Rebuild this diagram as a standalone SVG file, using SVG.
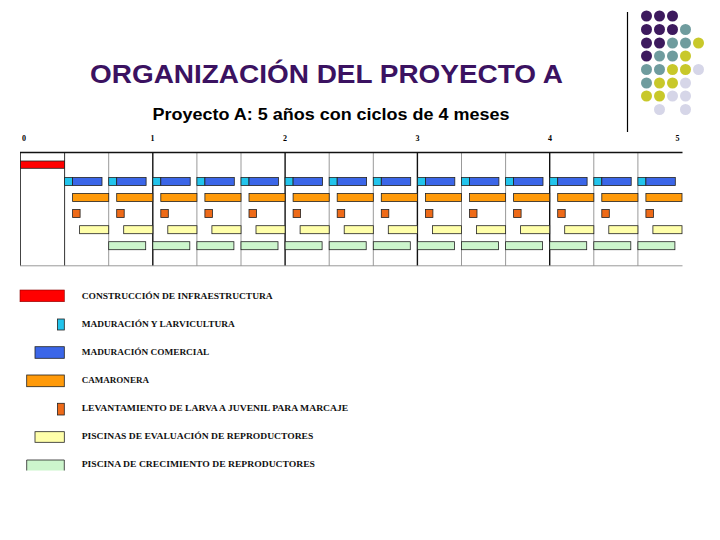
<svg xmlns="http://www.w3.org/2000/svg" xmlns:xlink="http://www.w3.org/1999/xlink" width="720" height="540" viewBox="0 0 720 540">
<style>
.title{font-family:"Liberation Sans",Arial,sans-serif;font-weight:bold;font-size:25px;fill:#3B1261}
.sub{font-family:"Liberation Sans",Arial,sans-serif;font-weight:bold;font-size:16px;fill:#000}
.yr{font-family:"Liberation Serif","Times New Roman",serif;font-weight:bold;font-size:8px;fill:#000;text-anchor:middle}
.lg{font-family:"Liberation Serif","Times New Roman",serif;font-weight:bold;font-size:8.5px;fill:#111}
.bar{stroke:#222;stroke-width:0.8}
.red{fill:#FF0000}
.cy{fill:#22C4EC}
.bl{fill:#3B66E8}
.or{fill:#FF9A0A}
.sq{fill:#EE6A18}
.ye{fill:#FFFFAA}
.gr{fill:#CCF5CC}
.gl{stroke:#999;stroke-width:1}
.gd{stroke:#111;stroke-width:1.4}
.p{fill:#3D1A5E}.t{fill:#6F9C9E}.y{fill:#C8C82A}.l{fill:#D6D6E8}
</style>
<defs>
<g id="cyc">
<rect class="bar cy" x="0" y="177.5" width="8" height="8"/>
<rect class="bar bl" x="8" y="177.5" width="29.4" height="8"/>
<rect class="bar or" x="8" y="193.5" width="36.1" height="8"/>
<rect class="bar sq" x="8" y="209.5" width="7.5" height="8"/>
<rect class="bar ye" x="15" y="225.7" width="29.1" height="8"/>
</g>
<rect id="grn" class="bar gr" x="0" y="241.7" width="37" height="8"/>
</defs>

<g id="logo">
<line x1="627.5" y1="12" x2="627.5" y2="132" stroke="#000" stroke-width="1.2"/>
<circle class="p" cx="646.5" cy="16" r="5.5"/><circle class="p" cx="659.5" cy="16" r="5.5"/><circle class="p" cx="672.5" cy="16" r="5.5"/>
<circle class="p" cx="646.5" cy="29.5" r="5.5"/><circle class="p" cx="659.5" cy="29.5" r="5.5"/><circle class="p" cx="672.5" cy="29.5" r="5.5"/><circle class="t" cx="685.5" cy="29.5" r="5.5"/>
<circle class="p" cx="646.5" cy="43" r="5.5"/><circle class="p" cx="659.5" cy="43" r="5.5"/><circle class="t" cx="672.5" cy="43" r="5.5"/><circle class="t" cx="685.5" cy="43" r="5.5"/><circle class="y" cx="698.5" cy="43" r="5.5"/>
<circle class="p" cx="646.5" cy="56" r="5.5"/><circle class="t" cx="659.5" cy="56" r="5.5"/><circle class="t" cx="672.5" cy="56" r="5.5"/><circle class="y" cx="685.5" cy="56" r="5.5"/>
<circle class="t" cx="646.5" cy="69.5" r="5.5"/><circle class="t" cx="659.5" cy="69.5" r="5.5"/><circle class="y" cx="672.5" cy="69.5" r="5.5"/><circle class="y" cx="685.5" cy="69.5" r="5.5"/><circle class="l" cx="698.5" cy="69.5" r="5.5"/>
<circle class="t" cx="646.5" cy="83" r="5.5"/><circle class="y" cx="659.5" cy="83" r="5.5"/><circle class="y" cx="672.5" cy="83" r="5.5"/><circle class="l" cx="685.5" cy="83" r="5.5"/>
<circle class="y" cx="646.5" cy="96" r="5.5"/><circle class="y" cx="659.5" cy="96" r="5.5"/><circle class="l" cx="672.5" cy="96" r="5.5"/><circle class="l" cx="685.5" cy="96" r="5.5"/>
<circle class="l" cx="659.5" cy="109.5" r="5.5"/><circle class="l" cx="685.5" cy="109.5" r="5.5"/>
</g>

<text class="title" x="90" y="83" textLength="473" lengthAdjust="spacingAndGlyphs">ORGANIZACIÓN DEL PROYECTO A</text>
<text class="sub" x="152.5" y="120" textLength="357" lengthAdjust="spacingAndGlyphs">Proyecto A: 5 años con ciclos de 4 meses</text>

<g id="years">
<text class="yr" x="24" y="140.5">0</text>
<text class="yr" x="152.5" y="140.5">1</text>
<text class="yr" x="285" y="140.5">2</text>
<text class="yr" x="417.5" y="140.5">3</text>
<text class="yr" x="550" y="140.5">4</text>
<text class="yr" x="677.5" y="140.5">5</text>
</g>

<g id="grid">
<line class="gl" x1="108.7" y1="152.5" x2="108.7" y2="266"/>
<line class="gl" x1="196.9" y1="152.5" x2="196.9" y2="266"/>
<line class="gl" x1="241.0" y1="152.5" x2="241.0" y2="266"/>
<line class="gl" x1="329.2" y1="152.5" x2="329.2" y2="266"/>
<line class="gl" x1="373.3" y1="152.5" x2="373.3" y2="266"/>
<line class="gl" x1="461.5" y1="152.5" x2="461.5" y2="266"/>
<line class="gl" x1="505.6" y1="152.5" x2="505.6" y2="266"/>
<line class="gl" x1="593.8" y1="152.5" x2="593.8" y2="266"/>
<line class="gl" x1="637.9" y1="152.5" x2="637.9" y2="266"/>
<line x1="20.5" y1="152.5" x2="20.5" y2="266" stroke="#444" stroke-width="1"/>
<line x1="64.6" y1="152.5" x2="64.6" y2="266" stroke="#333" stroke-width="1"/>
<line class="gd" x1="152.8" y1="152.5" x2="152.8" y2="266"/>
<line class="gd" x1="285.1" y1="152.5" x2="285.1" y2="266"/>
<line class="gd" x1="417.4" y1="152.5" x2="417.4" y2="266"/>
<line class="gd" x1="549.7" y1="152.5" x2="549.7" y2="266"/>
<line x1="20" y1="152.5" x2="682.5" y2="152.5" stroke="#111" stroke-width="1.4"/>
<line x1="20" y1="265.8" x2="682.5" y2="265.8" stroke="#999" stroke-width="1"/>
</g>

<g id="bars">
<rect class="bar red" x="20.5" y="161" width="44.1" height="7.3"/>
<use xlink:href="#cyc" x="64.6"/>
<use xlink:href="#cyc" x="108.7"/>
<use xlink:href="#cyc" x="152.8"/>
<use xlink:href="#cyc" x="196.9"/>
<use xlink:href="#cyc" x="241.0"/>
<use xlink:href="#cyc" x="285.1"/>
<use xlink:href="#cyc" x="329.2"/>
<use xlink:href="#cyc" x="373.3"/>
<use xlink:href="#cyc" x="417.4"/>
<use xlink:href="#cyc" x="461.5"/>
<use xlink:href="#cyc" x="505.6"/>
<use xlink:href="#cyc" x="549.7"/>
<use xlink:href="#cyc" x="593.8"/>
<use xlink:href="#cyc" x="637.9"/>
<use xlink:href="#grn" x="108.7"/>
<use xlink:href="#grn" x="152.8"/>
<use xlink:href="#grn" x="196.9"/>
<use xlink:href="#grn" x="241.0"/>
<use xlink:href="#grn" x="285.1"/>
<use xlink:href="#grn" x="329.2"/>
<use xlink:href="#grn" x="373.3"/>
<use xlink:href="#grn" x="417.4"/>
<use xlink:href="#grn" x="461.5"/>
<use xlink:href="#grn" x="505.6"/>
<use xlink:href="#grn" x="549.7"/>
<use xlink:href="#grn" x="593.8"/>
<use xlink:href="#grn" x="637.9"/>
</g>

<g id="legend">
<rect class="red" x="20" y="290" width="44.3" height="11.7" stroke="#800" stroke-width="0.6"/>
<text class="lg" x="81.7" y="298.5" textLength="191" lengthAdjust="spacingAndGlyphs">CONSTRUCCIÓN DE INFRAESTRUCTURA</text>
<rect class="bar cy" x="57.5" y="319" width="6.8" height="11"/>
<text class="lg" x="81.7" y="326.5" textLength="153" lengthAdjust="spacingAndGlyphs">MADURACIÓN Y LARVICULTURA</text>
<rect class="bar bl" x="35" y="346.7" width="29.3" height="11.6"/>
<text class="lg" x="81.7" y="354.5" textLength="127.6" lengthAdjust="spacingAndGlyphs">MADURACIÓN COMERCIAL</text>
<rect class="bar or" x="26.7" y="375" width="37.6" height="11.7"/>
<text class="lg" x="81.7" y="382.5" textLength="67.3" lengthAdjust="spacingAndGlyphs">CAMARONERA</text>
<rect class="bar sq" x="57.5" y="403.3" width="6.8" height="11.7"/>
<text class="lg" x="81.7" y="411" textLength="266.6" lengthAdjust="spacingAndGlyphs">LEVANTAMIENTO DE LARVA A JUVENIL PARA MARCAJE</text>
<rect class="bar ye" x="35" y="431.7" width="29.3" height="10.6"/>
<text class="lg" x="81.7" y="438.5" textLength="231.6" lengthAdjust="spacingAndGlyphs">PISCINAS DE EVALUACIÓN DE REPRODUCTORES</text>
<rect class="gr" x="26.7" y="460" width="37.6" height="10.5"/>
<path d="M26.7 470.5V460H64.3V470.5" fill="none" stroke="#222" stroke-width="0.8"/>
<text class="lg" x="81.7" y="467" textLength="233.3" lengthAdjust="spacingAndGlyphs">PISCINA DE CRECIMIENTO DE REPRODUCTORES</text>
</g>
</svg>
